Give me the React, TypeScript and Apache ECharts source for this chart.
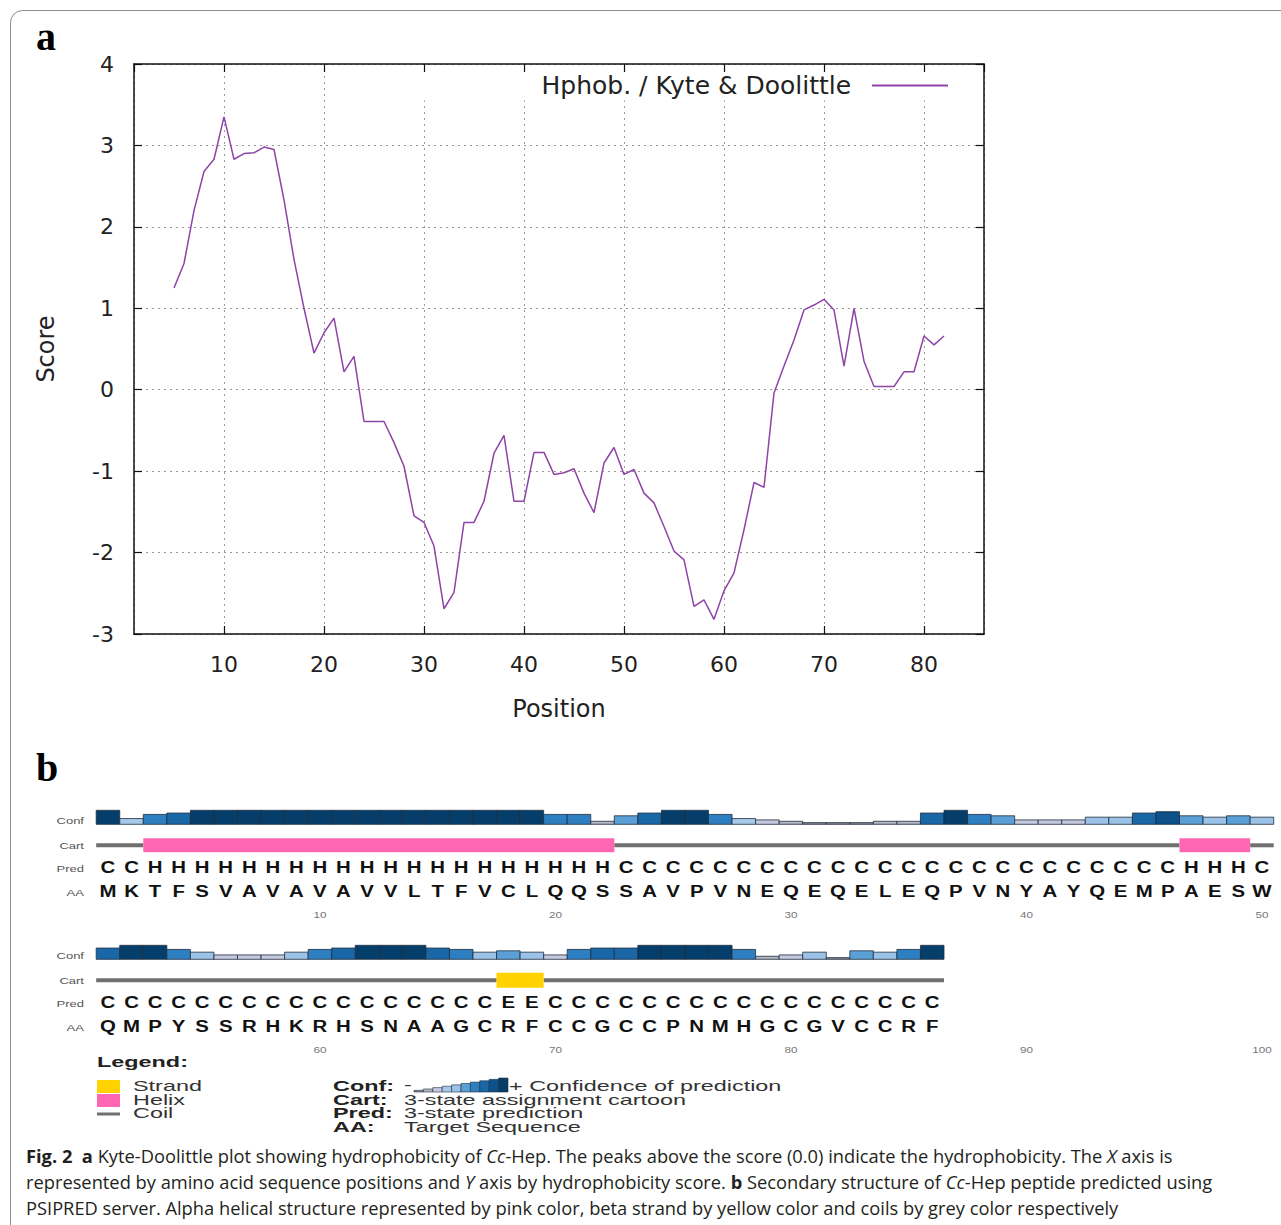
import React, { useEffect, useRef } from "react";
import * as echarts from "echarts";

// ---------- Panel a: Kyte & Doolittle hydropathy ----------
const kdPositions = [
  5, 6, 7, 8, 9, 10, 11, 12, 13, 14, 15, 16, 17, 18, 19, 20, 21, 22, 23, 24,
  25, 26, 27, 28, 29, 30, 31, 32, 33, 34, 35, 36, 37, 38, 39, 40, 41, 42, 43, 44,
  45, 46, 47, 48, 49, 50, 51, 52, 53, 54, 55, 56, 57, 58, 59, 60, 61, 62, 63, 64,
  65, 66, 67, 68, 69, 70, 71, 72, 73, 74, 75, 76, 77, 78, 79, 80, 81, 82,
];
const kdScores = [
  1.25, 1.55, 2.2, 2.68, 2.83, 3.35, 2.83, 2.9, 2.91, 2.98, 2.95, 2.33, 1.6, 1.0, 0.45, 0.7, 0.88, 0.22, 0.41, -0.39,
  -0.39, -0.39, -0.65, -0.94, -1.55, -1.63, -1.92, -2.69, -2.49, -1.63, -1.63, -1.37, -0.78, -0.56, -1.37, -1.37, -0.77, -0.77, -1.04, -1.02,
  -0.97, -1.27, -1.51, -0.9, -0.71, -1.04, -0.98, -1.27, -1.39, -1.68, -1.98, -2.09, -2.66, -2.58, -2.82, -2.47, -2.25, -1.72, -1.14, -1.2,
  -0.04, 0.29, 0.61, 0.98, 1.04, 1.11, 0.98, 0.29, 1.0, 0.35, 0.04, 0.04, 0.04, 0.22, 0.22, 0.66, 0.55, 0.66,
];
const seriesName = "Hphob. / Kyte & Doolittle";

// ---------- Panel b: PSIPRED ----------
const aaSequence =
  "MKTFSVAVAVAVVLTFVCLQQSSAVPVNEQEQELEQPVNYAYQEMPAESW" + "QMPYSSRHKRHSNAAGCRFCCGCCPNMHGCGVCCRF";
const predSequence =
  "CCHHHHHHHHHHHHHHHHHHHHCCCCCCCCCCCCCCCCCCCCCCCCHHHC" + "CCCCCCCCCCCCCCCCCEECCCCCCCCCCCCCCCCC";
const confRow1 = [
  9, 3, 6, 7, 9, 9, 9, 9, 9, 9, 9, 9, 9, 9, 9, 9, 9, 9, 9, 6,
  6, 1, 5, 7, 9, 9, 6, 3, 2, 1, 0, 0, 0, 1, 1, 7, 9, 6, 5, 2,
  2, 2, 4, 4, 7, 8, 5, 4, 5, 4,
];
const confRow2 = [
  7, 9, 9, 6, 4, 2, 2, 2, 4, 6, 7, 9, 9, 9, 7, 6, 4, 5, 4, 2,
  6, 7, 7, 9, 9, 9, 9, 6, 1, 2, 4, 0, 5, 4, 6, 9,
];
const rowTicks1 = [10, 20, 30, 40, 50];
const rowTicks2 = [60, 70, 80, 90, 100];
const trackLabels = ["Conf", "Cart", "Pred", "AA"];
const confColors = [
  "#8a8c94", "#b3b5c3", "#c5c9df", "#a8c8ea", "#9cc2e7",
  "#5aa0d6", "#2e7fc1", "#1a67a8", "#0e5089", "#063e6b",
];
const stateColors: Record<string, string> = { H: "#ff66b3", E: "#ffd200", C: "#6f6f6f" };

const FONT_A = '"DejaVu Sans", sans-serif';
const FONT_B = '"Liberation Sans", Arial, sans-serif';
const FONT_CAP = '"Open Sans", sans-serif';
const CONF_MIN = -1.2;

type Residue = { pos: number; aa: string; pred: string; conf: number };
const confAll = confRow1.concat(confRow2);
const residues: Residue[] = aaSequence.split("").map((aa, i) => ({
  pos: i + 1,
  aa,
  pred: predSequence[i],
  conf: confAll[i],
}));

function segmentsOf(rows: Residue[]) {
  const segs: { start: number; end: number; state: string }[] = [];
  rows.forEach((r) => {
    const last = segs[segs.length - 1];
    if (last && last.state === r.pred && last.end === r.pos - 1) last.end = r.pos;
    else segs.push({ start: r.pos, end: r.pos, state: r.pred });
  });
  return segs.filter((s) => s.state === "C").concat(segs.filter((s) => s.state !== "C"));
}

function rowSeries(rows: Residue[], ticks: number[], axisIndex: number) {
  const segs = segmentsOf(rows);
  const letterStyle = {
    align: "center",
    verticalAlign: "middle",
    fontSize: 17,
    fontWeight: "bold",
    fontFamily: FONT_B,
    fill: "#111",
  };
  return [
    {
      type: "custom",
      xAxisIndex: axisIndex,
      yAxisIndex: axisIndex,
      clip: false,
      silent: true,
      data: rows.map((r) => [r.pos, r.conf]),
      renderItem: (params: any, api: any) => {
        const p = api.value(0);
        const c = api.value(1);
        const tl = api.coord([p - 0.5, c]);
        const br = api.coord([p + 0.5, CONF_MIN]);
        return {
          type: "rect",
          shape: { x: tl[0], y: tl[1], width: br[0] - tl[0], height: br[1] - tl[1] },
          style: { fill: confColors[c], stroke: "#1f2d3d", lineWidth: 0.8 },
        };
      },
    },
    {
      type: "custom",
      xAxisIndex: axisIndex,
      yAxisIndex: axisIndex,
      clip: false,
      silent: true,
      data: segs.map((s) => [s.start, s.end]),
      renderItem: (params: any, api: any) => {
        const s = segs[params.dataIndex];
        const a = api.coord([s.start - 0.5, CONF_MIN]);
        const b = api.coord([s.end + 0.5, CONF_MIN]);
        const cy = a[1] + 21;
        if (s.state === "C") {
          return {
            type: "rect",
            shape: { x: a[0], y: cy - 2, width: b[0] - a[0], height: 4 },
            style: { fill: stateColors.C },
          };
        }
        const h = s.state === "E" ? 15 : 14;
        return {
          type: "rect",
          shape: { x: a[0], y: cy - h / 2, width: b[0] - a[0], height: h },
          style: { fill: stateColors[s.state] },
        };
      },
    },
    {
      type: "custom",
      xAxisIndex: axisIndex,
      yAxisIndex: axisIndex,
      clip: false,
      silent: true,
      data: rows.map((r) => [r.pos, 0]),
      renderItem: (params: any, api: any) => {
        const r = rows[params.dataIndex];
        const pt = api.coord([r.pos, CONF_MIN]);
        return {
          type: "group",
          children: [
            { type: "text", x: pt[0], y: pt[1] + 43, scaleX: 1.2, style: { ...letterStyle, text: r.pred } },
            { type: "text", x: pt[0], y: pt[1] + 67, scaleX: 1.2, style: { ...letterStyle, text: r.aa } },
          ],
        };
      },
    },
    {
      type: "custom",
      xAxisIndex: axisIndex,
      yAxisIndex: axisIndex,
      clip: false,
      silent: true,
      data: ticks.map((t) => [t, 0]),
      renderItem: (params: any, api: any) => {
        const t = ticks[params.dataIndex];
        const pt = api.coord([t, CONF_MIN]);
        return {
          type: "text",
          x: pt[0],
          y: pt[1] + 91,
          scaleX: 1.3,
          style: { text: String(t), align: "center", verticalAlign: "middle", fontSize: 9, fontFamily: FONT_B, fill: "#777" },
        };
      },
    },
  ];
}

function buildOption() {
  const row1 = residues.filter((r) => r.pos <= 50);
  const row2 = residues.filter((r) => r.pos > 50);

  const axisBlack = { onZero: false, lineStyle: { color: "#111", width: 1.5 } };
  const tickIn = { inside: true, length: 8, lineStyle: { color: "#111", width: 1.2 } };
  const dotted = { show: true, lineStyle: { color: "#9a9a9a", type: [2, 4], width: 1 } };

  const graphics: any[] = [];
  graphics.push({
    type: "rect",
    shape: { x: 10.5, y: 10.5, width: 1300, height: 1300, r: 12 },
    style: { fill: "none", stroke: "#8c8c8c", lineWidth: 1 },
    z: 0,
  });
  graphics.push({
    type: "rect",
    shape: { x: 415, y: 65.5, width: 567.5, height: 35 },
    style: { fill: "#fff" },
    z: 1,
  });
  graphics.push({
    type: "text",
    x: 46,
    y: 36,
    style: { text: "a", fontSize: 40, fontWeight: "bold", fontFamily: '"Liberation Serif", serif', fill: "#000", align: "center", verticalAlign: "middle" },
  });
  graphics.push({
    type: "text",
    x: 47,
    y: 767,
    style: { text: "b", fontSize: 40, fontWeight: "bold", fontFamily: '"Liberation Serif", serif', fill: "#000", align: "center", verticalAlign: "middle" },
  });

  const rowBases = [824.3, 959.3];
  const labelOffsets = [-3.3, 21.7, 44.7, 68.7];
  rowBases.forEach((base) => {
    trackLabels.forEach((lab, k) => {
      graphics.push({
        type: "text",
        x: 84,
        y: base + labelOffsets[k],
        scaleX: 1.45,
        style: { text: lab, fontSize: 9, fontFamily: FONT_B, fill: "#555", align: "right", verticalAlign: "middle" },
      });
    });
  });

  const legText = (x: number, y: number, text: string, bold = false) => ({
    type: "text",
    x,
    y,
    scaleX: 1.56,
    style: {
      text,
      fontSize: 15,
      fontWeight: bold ? "bold" : "normal",
      fontFamily: FONT_B,
      fill: bold ? "#222" : "#333",
      align: "left",
      verticalAlign: "middle",
    },
  });
  graphics.push(legText(97, 1062, "Legend:", true));
  graphics.push({ type: "rect", shape: { x: 97, y: 1080, width: 23, height: 13 }, style: { fill: stateColors.E } });
  graphics.push({ type: "rect", shape: { x: 97, y: 1094, width: 23, height: 13 }, style: { fill: stateColors.H } });
  graphics.push({ type: "rect", shape: { x: 97, y: 1112.5, width: 23, height: 3 }, style: { fill: stateColors.C } });
  graphics.push(legText(133, 1086, "Strand"));
  graphics.push(legText(133, 1100, "Helix"));
  graphics.push(legText(133, 1113, "Coil"));

  graphics.push(legText(333, 1086, "Conf:", true));
  graphics.push(legText(404, 1085, "-"));
  confColors.forEach((c, i) => {
    const h = 1.65 + i * 1.37;
    graphics.push({
      type: "rect",
      shape: { x: 414 + i * 9.4, y: 1092 - h, width: 9.4, height: h },
      style: { fill: c, stroke: "#1f2d3d", lineWidth: 0.6 },
    });
  });
  graphics.push(legText(509, 1086, "+ Confidence of prediction"));
  graphics.push(legText(333, 1100, "Cart:", true));
  graphics.push(legText(404, 1100, "3-state assignment cartoon"));
  graphics.push(legText(333, 1113, "Pred:", true));
  graphics.push(legText(404, 1113, "3-state prediction"));
  graphics.push(legText(333, 1127, "AA:", true));
  graphics.push(legText(404, 1127, "Target Sequence"));

  const capSize = 18.3;
  const capRich = {
    b: { fontWeight: "bold", fontSize: capSize, fontFamily: FONT_CAP, fill: "#231f20" },
    i: { fontStyle: "italic", fontSize: capSize, fontFamily: FONT_CAP, fill: "#231f20" },
  };
  const capLines = [
    "{b|Fig. 2}  {b|a} Kyte-Doolittle plot showing hydrophobicity of {i|Cc}-Hep. The peaks above the score (0.0) indicate the hydrophobicity. The {i|X} axis is",
    "represented by amino acid sequence positions and {i|Y} axis by hydrophobicity score. {b|b} Secondary structure of {i|Cc}-Hep peptide predicted using",
    "PSIPRED server. Alpha helical structure represented by pink color, beta strand by yellow color and coils by grey color respectively",
  ];
  capLines.forEach((t, k) => {
    graphics.push({
      type: "text",
      x: 26,
      y: 1155 + k * 26,
      style: { text: t, rich: capRich, fontSize: capSize, fontFamily: FONT_CAP, fill: "#231f20", align: "left", verticalAlign: "middle" },
    });
  });

  const hiddenAxis = { show: false };

  return {
    animation: false,
    backgroundColor: "#fff",
    graphic: { elements: graphics },
    legend: {
      data: [seriesName],
      right: 328,
      top: 68,
      align: "right",
      icon: "rect",
      itemWidth: 76,
      itemHeight: 2,
      selectedMode: false,
      formatter: (n: string) => n + "\u00a0\u00a0",
      textStyle: { fontSize: 25, color: "#222", fontFamily: FONT_A },
      z: 6,
    },
    grid: [
      { left: 134, top: 64, width: 850, height: 570 },
      { left: 96.2, top: 810.3, width: 1177.5, height: 14 },
      { left: 96.2, top: 945.3, width: 1177.5, height: 14 },
    ],
    xAxis: [
      {
        type: "value",
        gridIndex: 0,
        min: 1,
        max: 86,
        splitNumber: 8,
        axisLine: axisBlack,
        axisTick: tickIn,
        axisLabel: { fontSize: 22, color: "#222", margin: 19, fontFamily: FONT_A, showMinLabel: false, showMaxLabel: false },
        splitLine: dotted,
        name: "Position",
        nameLocation: "middle",
        nameGap: 63,
        nameTextStyle: { fontSize: 24, color: "#222", fontFamily: FONT_A },
        z: 0,
      },
      {
        type: "value",
        gridIndex: 0,
        position: "top",
        min: 1,
        max: 86,
        splitNumber: 8,
        axisLine: axisBlack,
        axisTick: tickIn,
        axisLabel: { show: false },
        splitLine: { show: false },
        z: 5,
      },
      { type: "value", gridIndex: 1, min: 0.5, max: 50.5, ...hiddenAxis },
      { type: "value", gridIndex: 2, min: 50.5, max: 100.5, ...hiddenAxis },
    ],
    yAxis: [
      {
        type: "value",
        gridIndex: 0,
        min: -3,
        max: 4,
        interval: 1,
        axisLine: axisBlack,
        axisTick: tickIn,
        axisLabel: { fontSize: 22, color: "#222", margin: 20, fontFamily: FONT_A },
        splitLine: dotted,
        name: "Score",
        nameLocation: "middle",
        nameGap: 76,
        nameTextStyle: { fontSize: 24, color: "#222", fontFamily: FONT_A },
        z: 0,
      },
      {
        type: "value",
        gridIndex: 0,
        position: "right",
        min: -3,
        max: 4,
        interval: 1,
        axisLine: axisBlack,
        axisTick: tickIn,
        axisLabel: { show: false },
        splitLine: { show: false },
        z: 5,
      },
      { type: "value", gridIndex: 1, min: CONF_MIN, max: 9, ...hiddenAxis },
      { type: "value", gridIndex: 2, min: CONF_MIN, max: 9, ...hiddenAxis },
    ],
    series: [
      {
        name: seriesName,
        type: "line",
        xAxisIndex: 0,
        yAxisIndex: 0,
        data: kdPositions.map((p, i) => [p, kdScores[i]]),
        symbol: "none",
        lineStyle: { color: "#8e44a6", width: 1.5 },
        itemStyle: { color: "#8e44a6" },
        z: 3,
      },
      ...rowSeries(row1, rowTicks1, 2),
      ...rowSeries(row2, rowTicks2, 3),
    ],
  };
}

export default function App() {
  const ref = useRef<HTMLDivElement>(null);
  useEffect(() => {
    if (!ref.current) return;
    const chart = echarts.init(ref.current, null, { renderer: "svg" });
    chart.setOption(buildOption() as any);
    return () => chart.dispose();
  }, []);
  return (
    <div
      ref={ref}
      style={{ position: "absolute", left: 0, top: 0, width: 1281, height: 1225, background: "#fff" }}
    />
  );
}
